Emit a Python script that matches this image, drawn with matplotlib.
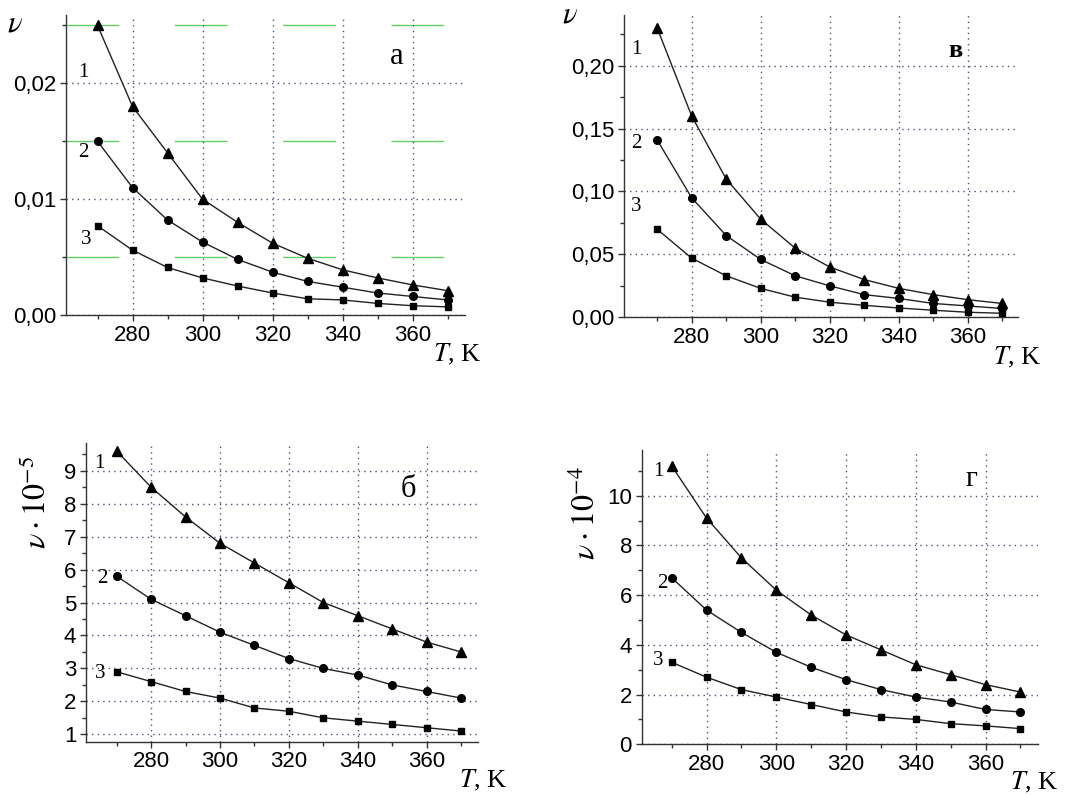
import matplotlib
matplotlib.use('Agg')
import matplotlib.pyplot as plt
from matplotlib.ticker import MultipleLocator

plt.rcParams['font.family'] = ['Liberation Sans', 'DejaVu Sans']
plt.rcParams['mathtext.fontset'] = 'stix'

# temperatures, K
T = [270, 280, 290, 300, 310, 320, 330, 340, 350, 360, 370]

# panel a
a1 = [0.025, 0.018, 0.014, 0.010, 0.0080, 0.0062, 0.0049, 0.0039, 0.0032, 0.0026, 0.0021]
a2 = [0.015, 0.011, 0.0082, 0.0063, 0.0048, 0.0037, 0.0029, 0.0024, 0.0019, 0.0016, 0.0013]
a3 = [0.0077, 0.0056, 0.0041, 0.0032, 0.0025, 0.0019, 0.0014, 0.0013, 0.0010, 0.0008, 0.0007]
# panel б (x 1e-5)
b1 = [9.6, 8.5, 7.6, 6.8, 6.2, 5.6, 5.0, 4.6, 4.2, 3.8, 3.5]
b2 = [5.8, 5.1, 4.6, 4.1, 3.7, 3.3, 3.0, 2.8, 2.5, 2.3, 2.1]
b3 = [2.9, 2.6, 2.3, 2.1, 1.8, 1.7, 1.5, 1.4, 1.3, 1.2, 1.1]
# panel в
v1 = [0.230, 0.160, 0.110, 0.078, 0.055, 0.040, 0.030, 0.023, 0.018, 0.014, 0.011]
v2 = [0.141, 0.095, 0.065, 0.046, 0.033, 0.025, 0.018, 0.015, 0.011, 0.009, 0.007]
v3 = [0.070, 0.047, 0.033, 0.023, 0.016, 0.012, 0.0095, 0.0074, 0.0056, 0.0040, 0.0032]
# panel г (x 1e-4)
g1 = [11.2, 9.1, 7.5, 6.2, 5.2, 4.4, 3.8, 3.2, 2.8, 2.4, 2.1]
g2 = [6.7, 5.4, 4.5, 3.7, 3.1, 2.6, 2.2, 1.9, 1.7, 1.4, 1.3]
g3 = [3.3, 2.7, 2.2, 1.9, 1.6, 1.3, 1.1, 1.0, 0.83, 0.74, 0.63]

x_ticks = [280, 300, 320, 340, 360]
a_yticks = [0.0, 0.01, 0.02]
a_ylabels = ['0,00', '0,01', '0,02']
v_yticks = [0.0, 0.05, 0.10, 0.15, 0.20]
v_ylabels = ['0,00', '0,05', '0,10', '0,15', '0,20']
b_yticks = [1, 2, 3, 4, 5, 6, 7, 8, 9]
g_yticks = [0, 2, 4, 6, 8, 10]
curve_names = ['1', '2', '3']

SERIF = ['Liberation Serif', 'DejaVu Serif']
GRID = '#505078'

fig = plt.figure(figsize=(10.68, 7.95), dpi=100)


def setup(ax, xlim, ylim, yticks, ylabels, yminor):
    ax.set_xlim(*xlim)
    ax.set_ylim(*ylim)
    ax.set_xticks(x_ticks)
    ax.xaxis.set_minor_locator(MultipleLocator(10))
    ax.set_yticks(yticks)
    ax.set_yticklabels(ylabels)
    ax.yaxis.set_minor_locator(MultipleLocator(yminor))
    for s in ['top', 'right']:
        ax.spines[s].set_visible(False)
    for s in ['left', 'bottom']:
        ax.spines[s].set_color('#333333')
        ax.spines[s].set_linewidth(1.0)
    ax.tick_params(which='major', length=4, width=1, color='#333333', labelsize=16, pad=3)
    ax.tick_params(which='minor', length=3, width=1, color='#333333')
    ax.grid(True, which='major', linestyle=(0, (1, 3)), color=GRID, linewidth=1)


def curves(ax, s1, s2, s3, pos):
    for ys, m, ms in [(s1, '^', 7), (s2, 'o', 5.5), (s3, 's', 5)]:
        ax.plot(T, ys, color='#222222', lw=1, marker=m, ms=ms, mfc='black', mec='black', zorder=3)
    for name, (x, y) in zip(curve_names, pos):
        ax.text(x, y, name, family=SERIF, fontsize=15, ha='center', va='center')


def tk(ax, x, y):
    ax.text(x, y, r'$T$, K', transform=ax.transAxes, family=SERIF, fontsize=19,
            ha='center', va='center')


# a
ax = fig.add_axes([0.0618, 0.6038, 0.3736, 0.3774])
setup(ax, (261, 375), (0, 0.0259), a_yticks, a_ylabels, 0.005)
for yv in [0.005, 0.015, 0.025]:
    ax.axhline(yv, color='#66cc66', lw=1, linestyle=(0, (38, 40)), zorder=1)
curves(ax, a1, a2, a3, [(266.1, 0.0209), (265.9, 0.0140), (266.7, 0.0065)])
ax.text(0.83, 0.86, 'а', transform=ax.transAxes, family=SERIF, fontsize=22, ha='center', va='center')
ax.text(-0.128, 0.973, r'$\nu$', transform=ax.transAxes, fontsize=22, ha='center', va='center')
tk(ax, 0.98, -0.133)

# в
ax = fig.add_axes([0.5846, 0.6009, 0.3686, 0.3803])
setup(ax, (260.5, 374.6), (0, 0.2403), v_yticks, v_ylabels, 0.025)
curves(ax, v1, v2, v3, [(264.1, 0.2125), (264.1, 0.1378), (263.9, 0.0879)])
ax.text(0.84, 0.884, 'в', transform=ax.transAxes, family=SERIF, fontsize=19, fontweight='bold',
        ha='center', va='center')
ax.text(-0.138, 1.0, r'$\nu$', transform=ax.transAxes, fontsize=22, ha='center', va='center')
tk(ax, 0.997, -0.134)

# б
ax = fig.add_axes([0.0805, 0.0670, 0.3670, 0.3761])
setup(ax, (261.1, 374.9), (0.775, 9.85), b_yticks, [str(v) for v in b_yticks], 0.5)
curves(ax, b1, b2, b3, [(264.9, 9.22), (265.7, 5.73), (265.2, 2.85)])
ax.text(0.822, 0.845, 'б', transform=ax.transAxes, family=SERIF, fontsize=22, ha='center', va='center')
ax.text(-0.126, 0.799, r'$\nu\cdot10^{-5}$', transform=ax.transAxes, fontsize=23, rotation=90,
        ha='center', va='center')
tk(ax, 1.013, -0.13)

# г
ax = fig.add_axes([0.6008, 0.0638, 0.3713, 0.3702])
setup(ax, (261.4, 375.1), (0, 11.84), g_yticks, [str(v) for v in g_yticks], 1)
curves(ax, g1, g2, g3, [(266.2, 10.97), (267.4, 6.48), (266.2, 3.39)])
ax.text(0.832, 0.903, 'г', transform=ax.transAxes, family=SERIF, fontsize=21, ha='center', va='center')
ax.text(-0.139, 0.785, r'$\nu\cdot10^{-4}$', transform=ax.transAxes, fontsize=23, rotation=90,
        ha='center', va='center')
tk(ax, 0.99, -0.13)

fig.savefig('out.png', dpi=100)
